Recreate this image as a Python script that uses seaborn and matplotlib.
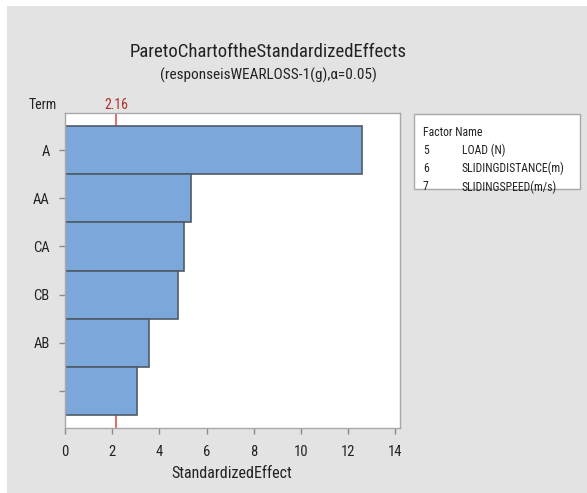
import matplotlib
matplotlib.use("Agg")
import matplotlib.pyplot as plt
from matplotlib.patches import Rectangle
import seaborn as sns

terms = ["A", "AA", "CA", "CB", "AB", " "]
effects = [12.6, 5.33, 5.06, 4.81, 3.58, 3.07]
critical = 2.16
factors = ["5", "6", "7"]
factor_names = ["LOAD (N)", "SLIDINGDISTANCE(m)", "SLIDINGSPEED(m/s)"]

sns.set_theme(style="white")
plt.rcParams["font.family"] = ["Roboto Condensed", "Open Sans", "DejaVu Sans"]
plt.rcParams["font.weight"] = "normal"

fig = plt.figure(figsize=(5.87, 4.93), dpi=100, facecolor="#e3e3e3")
# white margin strips at left and top
fig.patches.append(Rectangle((0, 0), 7 / 587, 1, transform=fig.transFigure,
                             facecolor="white", edgecolor="none", zorder=-5))
fig.patches.append(Rectangle((0, 1 - 6 / 493), 1, 6 / 493, transform=fig.transFigure,
                             facecolor="white", edgecolor="none", zorder=-5))

ax = fig.add_axes([0.1107, 0.1318, 0.5707, 0.639])
ax.set_facecolor("white")
ax.axvline(critical, color="#e06060", lw=1.3, zorder=0)
sns.barplot(x=effects, y=terms, orient="h", color="#7ba7da", saturation=1,
            width=1.0, edgecolor="#4f5b68", linewidth=1.2, ax=ax, zorder=2)
ax.set_xlim(0, 14.2)
ax.set_ylim(5.77, -0.77)
ax.set_xticks(range(0, 15, 2))
ax.set_xlabel("")
ax.set_ylabel("")
for s in ax.spines.values():
    s.set_color("#a8a8a8")
    s.set_linewidth(1)
ax.tick_params(axis="both", direction="out", length=4, width=1, color="#8a8a8a",
               labelsize=10.5, labelcolor="#222222", left=True, bottom=True)
ax.tick_params(axis="y", pad=7)
ax.tick_params(axis="x", pad=8)
ax.text(critical, 1.003, "2.16", transform=ax.get_xaxis_transform(), ha="center",
        va="bottom", color="#b02c2c", fontsize=10)

fig.text(0.457, 0.895, "ParetoChartoftheStandardizedEffects", ha="center", va="center",
         fontsize=13.5, color="#222222")
fig.text(0.457, 0.847, "(responseisWEARLOSS-1(g),\u03b1=0.05)", ha="center", va="center",
         fontsize=11, color="#222222")
fig.text(0.048, 0.787, "Term", ha="left", va="center", fontsize=10, color="#222222")
fig.text(232 / 587, 1 - 473 / 493, "StandardizedEffect", ha="center", va="center",
         fontsize=11.5, color="#222222")

# factor legend box
fig.patches.append(Rectangle((414 / 587, 1 - 189 / 493), 166 / 587, 75 / 493,
                             transform=fig.transFigure, facecolor="white",
                             edgecolor="#a8a8a8", lw=1, zorder=1))
fig.text(423 / 587, 1 - 132 / 493, "Factor Name", va="center", fontsize=8.5, color="#222222")
for i, (f, n) in enumerate(zip(factors, factor_names)):
    y = 1 - (150 + 18.5 * i) / 493
    fig.text(423 / 587, y, f, va="center", fontsize=8.5, color="#222222")
    fig.text(462 / 587, y, n, va="center", fontsize=8.5, color="#222222")

fig.savefig("out.png", dpi=100, facecolor=fig.get_facecolor())
